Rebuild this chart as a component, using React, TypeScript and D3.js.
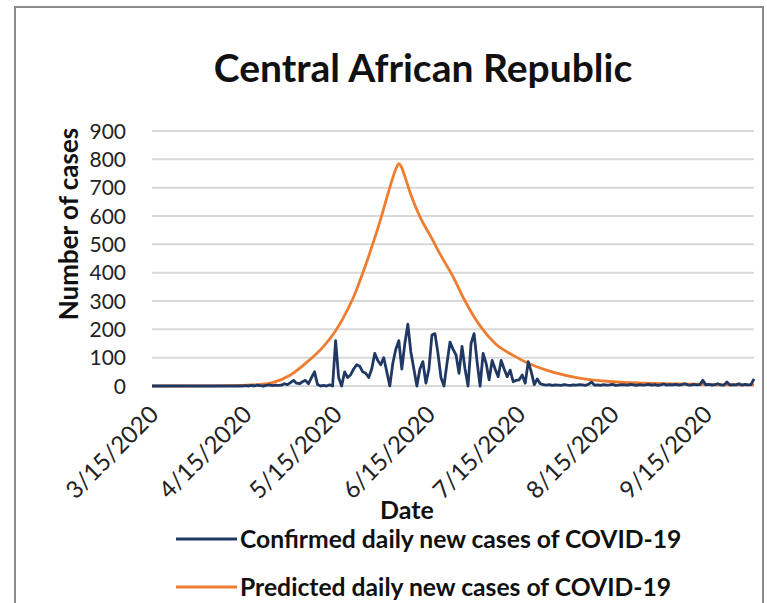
import React from "react";
import * as d3 from "d3";

// daily confirmed new cases, one value per day starting 3/15/2020
const startDate = "2020-03-15";
const endDate = "2020-10-01";
const confirmed = [
  0, 0, 0, 0, 0, 0, 0, 0, 0, 0, 0, 0, 0, 0, 0, 0, 0, 0, 0, 0, 0, 0, 0, 0, 0, 0, 0, 0, 0, 0, 0,
  1, 0, 2, 0, 3, 1, 0, 2, 4, 1, 3, 2,
  3, 8, 5, 12, 20, 10, 8, 15, 20, 8, 30, 50, 5, 0, 2, 0, 4, 0,
  160, 30, 0, 50, 30, 40, 60, 75, 70, 50, 45, 30, 60, 115, 90, 75, 100, 50, 0, 80, 130, 160,
  60, 150, 218, 120, 60, 0, 60, 86, 10, 60, 180, 185, 116, 30, 0, 80, 155, 130, 110, 45,
  140, 60, 0, 150, 185, 86, 0, 115, 80, 22, 90, 60, 33, 90, 60, 33, 56, 15, 20, 22,
  39, 10, 86, 50, 5, 25, 8, 5,
  3, 5, 2, 4, 3, 2, 5, 3, 2, 4, 3, 5, 4, 2, 6,
  14,
  3, 4, 2, 5, 3, 4, 6, 2, 3, 5, 4, 3, 6, 4,
  2, 5, 3, 4, 6, 3, 5, 2, 4, 7, 3, 5, 4, 6, 3, 5, 8, 4, 3, 6, 4, 5,
  20,
  4, 6, 3, 5, 8, 4, 3,
  14,
  3, 5, 4, 8, 3, 6, 4, 5,
  25,
];

// predicted daily new cases
const predDates = [
  "2020-03-15", "2020-04-05", "2020-04-13", "2020-04-19", "2020-04-24", "2020-04-30",
  "2020-05-05", "2020-05-11", "2020-05-15", "2020-05-17", "2020-05-21", "2020-05-24",
  "2020-05-27", "2020-05-30", "2020-06-02", "2020-06-04", "2020-06-05", "2020-06-06",
  "2020-06-07", "2020-06-09", "2020-06-12", "2020-06-16", "2020-06-19", "2020-06-23",
  "2020-06-27", "2020-07-02", "2020-07-07", "2020-07-13", "2020-07-18", "2020-07-24",
  "2020-08-04", "2020-08-15", "2020-08-26", "2020-09-06", "2020-09-28", "2020-10-01",
];
const predValues = [
  0, 0.5, 2, 5, 12, 39,
  80, 140, 195, 230, 315, 398,
  490, 590, 700, 765, 785, 770,
  740, 675, 598, 520, 460, 386,
  300, 212, 150, 108, 80, 56,
  28, 15, 10, 7, 4, 4,
];

const yTicks = [0, 100, 200, 300, 400, 500, 600, 700, 800, 900];
const xTickDates = [
  "2020-03-15", "2020-04-15", "2020-05-15", "2020-06-15",
  "2020-07-15", "2020-08-15", "2020-09-15",
];

const title = "Central African Republic";
const yTitle = "Number of cases";
const xTitle = "Date";
const seriesNames = [
  "Confirmed daily new cases of COVID-19",
  "Predicted daily new cases of COVID-19",
];
const colors = ["#203864", "#ed7d31"];

const parse = d3.timeParse("%Y-%m-%d");
const fmt = d3.timeFormat("%-m/%-d/%Y");
const font = "Lato, 'Open Sans', sans-serif";

export default function App() {
  const W = 767;
  const H = 603;
  const plot = { left: 152, right: 754, top: 131, bottom: 386 };

  const x = d3
    .scaleTime()
    .domain([parse(startDate)!, parse(endDate)!])
    .range([plot.left, plot.right]);
  const y = d3.scaleLinear().domain([0, 900]).range([plot.bottom, plot.top]);

  const start = parse(startDate)!;
  const confirmedPts = confirmed.map((v, i) => ({ d: d3.timeDay.offset(start, i), v }));
  const predPts = predDates.map((s, i) => ({ d: parse(s)!, v: predValues[i] }));

  const line = d3
    .line<{ d: Date; v: number }>()
    .x((p) => x(p.d))
    .y((p) => y(p.v));
  const smooth = d3
    .line<{ d: Date; v: number }>()
    .x((p) => x(p.d))
    .y((p) => y(p.v))
    .curve(d3.curveMonotoneX);

  return (
    <div style={{ position: "absolute", left: 0, top: 0 }}>
      <svg width={W} height={H} style={{ display: "block", background: "#fff" }}>
        <rect x={15} y={7} width={748} height={610} fill="#fff" stroke="#8a8a8a" strokeWidth={2} />

        <text x={423} y={82} textAnchor="middle" fontFamily={font} fontWeight={700} fontSize={39} fill="#111">
          {title}
        </text>

        {/* gridlines */}
        {yTicks.map((t) => (
          <line key={t} x1={plot.left} x2={plot.right} y1={y(t)} y2={y(t)} stroke="#d9d9d9" strokeWidth={2} />
        ))}

        {/* y tick labels */}
        {yTicks.map((t) => (
          <text key={t} x={126} y={y(t)} dy="0.36em" textAnchor="end" fontFamily={font} fontSize={21} fill="#222">
            {t}
          </text>
        ))}

        <text
          transform={`translate(78,224) rotate(-90)`}
          textAnchor="middle"
          fontFamily={font}
          fontWeight={700}
          fontSize={26}
          fill="#111"
        >
          {yTitle}
        </text>

        {/* x tick labels */}
        {xTickDates.map((s) => {
          const d = parse(s)!;
          return (
            <text
              key={s}
              transform={`translate(${x(d) + 8},416) rotate(-45)`}
              textAnchor="end"
              fontFamily={font}
              fontSize={24}
              fill="#222"
            >
              {fmt(d)}
            </text>
          );
        })}

        <text x={407} y={519} textAnchor="middle" fontFamily={font} fontWeight={700} fontSize={25} fill="#111">
          {xTitle}
        </text>

        {/* series */}
        <path d={smooth(predPts)!} fill="none" stroke={colors[1]} strokeWidth={2.8} strokeLinejoin="round" />
        <path d={line(confirmedPts)!} fill="none" stroke={colors[0]} strokeWidth={2.8} strokeLinejoin="round" />

        {/* legend */}
        {seriesNames.map((name, i) => (
          <g key={name} transform={`translate(0,${539 + i * 48})`}>
            <line x1={176} x2={237} y1={0} y2={0} stroke={colors[i]} strokeWidth={2.8} />
            <text x={240} y={0} dy="0.35em" fontFamily={font} fontWeight={700} fontSize={24.7} fill="#111">
              {name}
            </text>
          </g>
        ))}
      </svg>
    </div>
  );
}
